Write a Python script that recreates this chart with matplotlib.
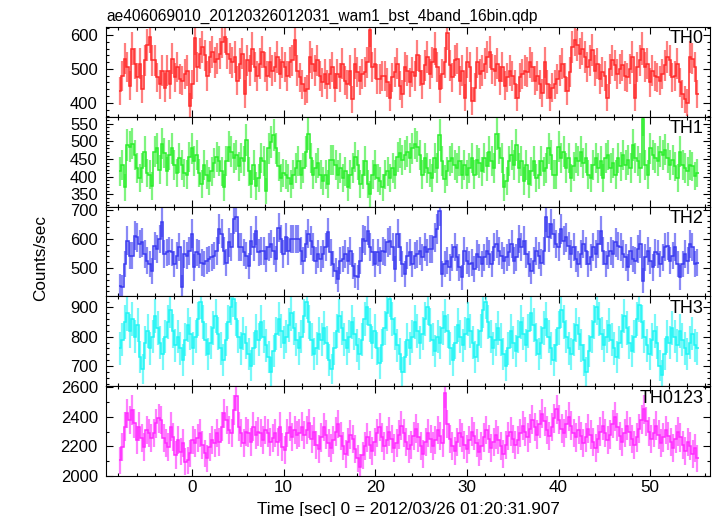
import numpy as np
import matplotlib
matplotlib.use("Agg")
from matplotlib import pyplot as plt
from matplotlib.ticker import MultipleLocator

# light curve values (counts/sec), one list per band
th0 = [435, 480, 530, 505, 450, 560, 515, 475, 515, 440, 525, 570, 595, 525, 525, 475, 455, 495, 445, 495,
       455, 530, 475, 505, 470, 465, 485, 495, 390, 455, 590, 505, 545, 565, 540, 480, 535, 550, 520, 530,
       545, 580, 595, 545, 530, 520, 535, 465, 515, 545, 425, 525, 495, 560, 505, 480, 515, 550, 505, 480,
       520, 495, 505, 535, 485, 520, 505, 480, 520, 525, 585, 495, 475, 455, 435, 440, 535, 515, 495, 525,
       480, 460, 485, 455, 485, 505, 445, 485, 475, 515, 465, 455, 495, 410, 515, 490, 465, 485, 490, 520,
       615, 505, 515, 470, 470, 480, 480, 460, 415, 475, 490, 515, 450, 425, 505, 495, 460, 490,
       480, 540, 495, 455, 510, 535, 485, 520, 560, 505, 440, 485, 520, 605, 510, 475, 525, 530, 465, 495,
       415, 520, 505, 405, 445, 520, 485, 495, 515, 535, 550, 500, 495, 515, 465, 505, 450, 475, 495, 480,
       455, 415, 475, 485, 495, 490, 520, 505, 465, 480, 455, 430, 520, 455, 415, 445, 455, 470, 495, 515,
       475, 435, 490, 565, 585, 570, 545, 560, 535, 505, 525, 555, 495, 515, 470, 490, 480, 415, 500, 525,
       510, 485, 500, 510, 480, 475, 500, 535, 415, 505, 525, 560, 505, 515, 460, 495, 480, 475, 465, 485,
       510, 535, 525, 475, 480, 515, 460, 425, 410, 400, 535, 530, 505, 425]
th1 = [416, 434, 370, 490, 485, 494, 462, 425, 397, 425, 471, 411, 406, 374, 471, 481, 420, 494, 467, 416,
       462, 481, 434, 411, 453, 434, 411, 406, 457, 481, 444, 462, 411, 379, 434, 406, 388, 416, 439, 457,
       444, 416, 370, 444, 485, 471, 453, 462, 430, 453, 444, 504, 416, 379, 434, 374, 397, 453, 444, 360,
       481, 499, 518, 481, 430, 397, 411, 406, 397, 379, 406, 425, 444, 406, 425, 471, 522, 453, 406, 425,
       439, 406, 388, 406, 379, 448, 448, 434, 406, 425, 397, 416, 370, 406, 425, 457, 434, 379, 406, 444,
       379, 351, 406, 434, 397, 388, 370, 406, 416, 397, 425, 406, 457, 467, 448, 462, 471, 453, 481, 494,
       485, 462, 406, 453, 425, 411, 397, 453, 425, 518, 444, 393, 416, 444, 453, 434, 425, 444, 406, 434,
       406, 425, 453, 406, 448, 439, 416, 453, 430, 471, 444, 425, 522, 481, 453, 370, 388, 444, 462, 434,
       490, 425, 444, 388, 434, 379, 416, 444, 397, 406, 444, 416, 425, 481, 462, 406, 406, 485, 453, 471,
       425, 453, 397, 430, 453, 444, 471, 439, 453, 406, 397, 434, 453, 425, 444, 397, 453, 462, 425, 439,
       406, 453, 430, 462, 434, 448, 425, 490, 453, 444, 425, 564, 434, 406, 481, 462, 453, 444, 471, 462,
       476, 453, 434, 448, 430, 397, 471, 434, 425, 416, 434, 430, 402, 411]
th2 = [439, 434, 514, 594, 542, 542, 611, 605, 582, 588, 548, 525, 514, 491, 577, 565, 599, 657, 548, 554,
       559, 554, 514, 542, 571, 434, 548, 542, 559, 617, 502, 554, 548, 519, 514, 525, 531, 537, 542, 559,
       634, 617, 559, 519, 588, 571, 668, 674, 571, 571, 554, 542, 508, 594, 571, 628, 554, 559, 559, 531,
       571, 582, 559, 531, 639, 599, 548, 605, 559, 599, 599, 599, 599, 559, 525, 582, 617, 594, 571, 525,
       548, 531, 548, 571, 622, 554, 514, 491, 462, 525, 531, 548, 525, 559, 508, 474, 468, 525, 599, 594,
       628, 571, 554, 514, 554, 525, 559, 554, 588, 594, 571, 497, 617, 571, 514, 479, 542, 554, 514, 542,
       548, 559, 537, 571, 554, 565, 565, 605, 634, 697, 479, 514, 525, 502, 537, 571, 537, 502, 468, 559,
       525, 514, 519, 497, 548, 537, 514, 537, 559, 548, 514, 571, 582, 559, 542, 525, 537, 554, 582, 525,
       537, 599, 571, 594, 548, 514, 491, 525, 559, 542, 519, 559, 674, 605, 651, 617, 582, 571, 634, 594,
       605, 577, 548, 571, 531, 514, 548, 582, 559, 514, 537, 571, 548, 582, 628, 559, 514, 542, 559, 548,
       588, 577, 571, 548, 537, 502, 559, 531, 525, 565, 582, 457, 537, 559, 525, 502, 554, 548, 514, 537,
       571, 577, 525, 542, 571, 514, 468, 514, 548, 525, 582, 571, 514, 519]
th3 = [760, 790, 850, 880, 820, 860, 800, 840, 730, 690, 780, 820, 760, 800, 870, 830, 780, 740, 800, 850,
       890, 820, 770, 800, 760, 720, 790, 840, 810, 760, 800, 860, 920, 850, 790, 740, 780, 830, 870, 810,
       760, 720, 790, 850, 900, 930, 860, 800, 760, 810, 780, 740, 700, 760, 820, 790, 850, 800, 770, 730,
       680, 750, 810, 860, 820, 780, 800, 840, 880, 830, 790, 760, 800, 870, 920, 850, 790, 740, 760, 810,
       790, 830, 780, 720, 690, 760, 820, 870, 830, 790, 760, 800, 850, 810, 770, 740, 790, 860, 900, 840,
       780, 820, 760, 710, 770, 830, 880, 930, 860, 810, 770, 740, 680, 730, 790, 760, 800, 850, 820, 780,
       810, 860, 900, 840, 790, 750, 800, 780, 830, 870, 820, 760, 720, 780, 840, 800, 770, 810, 860, 820,
       780, 730, 770, 820, 890, 920, 850, 800, 760, 790, 830, 790, 740, 700, 760, 820, 780, 750, 800, 850,
       810, 770, 820, 880, 840, 790, 740, 780, 830, 860, 800, 760, 720, 770, 830, 890, 850, 800, 760, 740,
       790, 840, 810, 770, 720, 680, 750, 800, 850, 900, 860, 810, 770, 800, 840, 790, 760, 730, 780, 820,
       870, 830, 780, 750, 800, 860, 910, 850, 800, 770, 740, 790, 820, 780, 700, 670, 740, 800, 780, 830,
       800, 770, 820, 790, 760, 740, 780, 810, 770, 760]
th0123 = [2107, 2198, 2333, 2424, 2378, 2446, 2356, 2243, 2333, 2254, 2198, 2311, 2288, 2254, 2288, 2356, 2390,
          2378, 2254, 2220, 2198, 2333, 2265, 2141, 2243, 2164, 2220, 2096, 2107, 2152, 2243, 2220, 2254, 2288,
          2209, 2152, 2119, 2198, 2243, 2220, 2288, 2231, 2333, 2424, 2378, 2311, 2288, 2446, 2537, 2333, 2288,
          2220, 2299, 2288, 2231, 2333, 2277, 2299, 2288, 2243, 2311, 2288, 2231, 2254, 2288, 2231, 2333, 2198,
          2175, 2288, 2333, 2265, 2311, 2277, 2288, 2333, 2277, 2311, 2356,
          2250, 2300, 2210, 2180, 2260, 2330, 2280, 2220, 2190, 2240, 2300, 2350, 2270, 2200, 2150, 2230, 2280,
          2250, 2180, 2120, 2060, 2140, 2200, 2260, 2210, 2170, 2230, 2290, 2330, 2260, 2200, 2240, 2300, 2250,
          2190, 2220, 2280, 2340, 2290, 2230, 2180, 2210, 2270, 2320, 2260, 2200, 2150, 2230, 2290, 2250, 2200,
          2240, 2310, 2270, 2220, 2560, 2350, 2250, 2200, 2170, 2230, 2290, 2260, 2210, 2180, 2240, 2300, 2270,
          2220, 2160, 2200, 2260, 2310, 2250, 2190, 2230, 2280, 2240, 2200, 2150, 2210, 2270, 2300, 2250, 2210,
          2240, 2290, 2340, 2300, 2260, 2320, 2380, 2330, 2280, 2350, 2420, 2370, 2310, 2270, 2330, 2390, 2450,
          2380, 2320, 2290, 2350, 2400, 2340, 2290, 2260, 2310, 2270, 2220, 2260, 2320, 2280, 2230, 2190, 2250,
          2300, 2340, 2290, 2240, 2280, 2350, 2400, 2330, 2270, 2230, 2290, 2340, 2300, 2250, 2210, 2260, 2320,
          2380, 2450, 2370, 2300, 2250, 2290, 2340, 2280, 2220, 2260, 2310, 2270, 2230, 2190, 2250, 2300, 2260,
          2210, 2170, 2230, 2200, 2150, 2190, 2120]

bands = ["TH0", "TH1", "TH2", "TH3", "TH0123"]
series = [th0, th1, th2, th3, th0123]
colors = ["#ff2a2a", "#2aee2a", "#3a3af0", "#1ef5f5", "#ff2aff"]
ylims = [(359, 624), (316, 570), (403, 711), (631, 938), (2000, 2606)]
majors = [100, 50, 100, 100, 200]
minors = [20, 10, 20, 20, 100]
t_first, t_last = -7.85, 55.15   # bin centres of first/last point
binsize = 0.25

plt.rcParams['font.family'] = ['Liberation Sans', 'DejaVu Sans']
plt.rcParams['font.size'] = 12.3

fig, axes = plt.subplots(5, 1, sharex=True, figsize=(7.17, 5.16), dpi=100)
fig.subplots_adjust(left=0.148, right=0.990, top=0.948, bottom=0.0775, hspace=0)

for ax, name, vals, col, yl, mj, mn in zip(axes, bands, series, colors, ylims, majors, minors):
    v = np.array(vals, dtype=float)
    t = np.linspace(t_first, t_last, len(v))
    dt = t[1] - t[0]
    edges = np.concatenate([[t[0] - dt / 2], t + dt / 2])
    err = np.sqrt(v / binsize)
    ax.errorbar(t, v, yerr=err, fmt='none', ecolor=col, alpha=0.6, elinewidth=1.6)
    ax.stairs(v, edges, color=col, linewidth=1.1, baseline=None)
    ax.set_ylim(*yl)
    ax.yaxis.set_major_locator(MultipleLocator(mj))
    ax.yaxis.set_minor_locator(MultipleLocator(mn))
    ax.xaxis.set_major_locator(MultipleLocator(10))
    ax.xaxis.set_minor_locator(MultipleLocator(2))
    ax.tick_params(which='both', direction='in', top=True, right=True, width=0.8)
    ax.tick_params(which='major', length=5)
    ax.tick_params(axis='y', which='major', pad=6, labelsize=12)
    ax.tick_params(axis='x', which='major', pad=3)
    ax.tick_params(which='minor', length=2.5)
    ax.text(0.99, 0.96, name, transform=ax.transAxes, ha='right', va='top', fontsize=13)
    for s in ax.spines.values():
        s.set_linewidth(0.8)

axes[0].set_xlim(-9.35, 56.5)
axes[0].set_title("ae406069010_20120326012031_wam1_bst_4band_16bin.qdp", loc='left', fontsize=11.2, pad=4, x=0.0)
axes[-1].set_xlabel("Time [sec] 0 = 2012/03/26 01:20:31.907", labelpad=5)
fig.text(0.056, 0.50, "Counts/sec", rotation=90, ha='center', va='center')

plt.savefig("out.png", dpi=100)
